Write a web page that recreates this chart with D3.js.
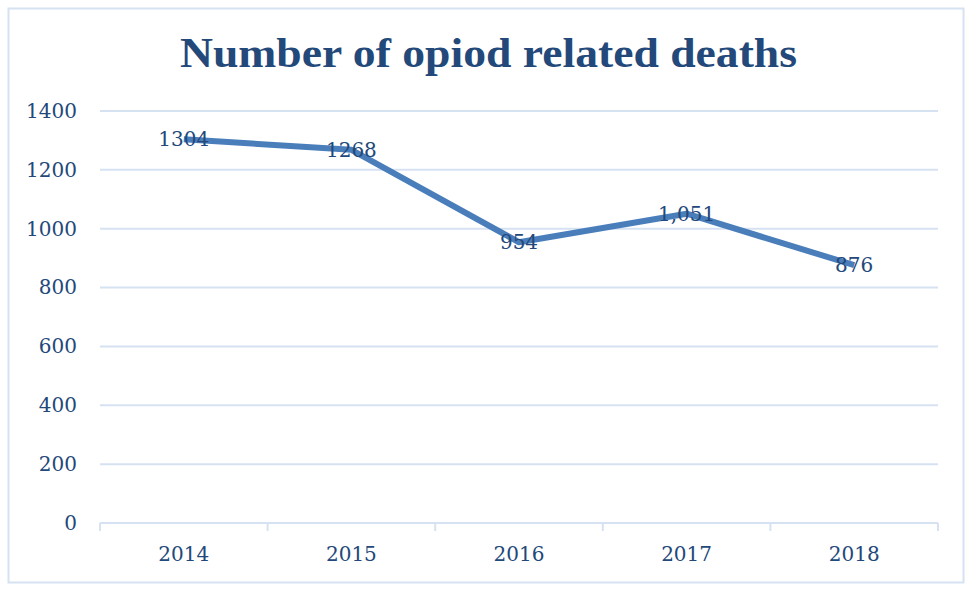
<!DOCTYPE html>
<html>
<head>
<meta charset="utf-8">
<script src="https://cdn.jsdelivr.net/npm/d3@7"></script>
<style>
  html, body { margin: 0; padding: 0; background: #ffffff; }
  svg { display: block; }
</style>
</head>
<body>
<svg id="chart" width="971" height="592"></svg>
<script>
// Opioid-related deaths per year
const years = ["2014", "2015", "2016", "2017", "2018"];
const deaths = [1304, 1268, 954, 1051, 876];
const valueLabels = ["1304", "1268", "954", "1,051", "876"];
const yTicks = [0, 200, 400, 600, 800, 1000, 1200, 1400];
const chartTitle = "Number of opiod related deaths";

const W = 971, H = 592;
const margin = { left: 100, right: 33, top: 111, bottom: 69 };
const textColor = "#23487a";
const gridColor = "#d6e2f2";
const lineColor = "#4a7ebb";
const serif = "'DejaVu Serif', Cambria, serif";

const svg = d3.select("#chart");

// outer frame
svg.append("rect")
  .attr("x", 8.5).attr("y", 8.5)
  .attr("width", 955).attr("height", 574)
  .attr("fill", "#ffffff")
  .attr("stroke", "#d6e2f2").attr("stroke-width", 2);

// title
svg.append("text")
  .attr("x", 488.5).attr("y", 67)
  .attr("text-anchor", "middle")
  .attr("font-family", "'Liberation Serif', 'Times New Roman', serif")
  .attr("font-weight", "bold")
  .attr("font-size", 43)
  .attr("fill", textColor)
  .attr("textLength", 617)
  .attr("lengthAdjust", "spacingAndGlyphs")
  .text(chartTitle);

const x = d3.scaleBand()
  .domain(years)
  .range([margin.left, W - margin.right])
  .padding(0);

const y = d3.scaleLinear()
  .domain([0, 1400])
  .range([H - margin.bottom, margin.top]);

// horizontal gridlines
svg.append("g")
  .selectAll("line")
  .data(yTicks)
  .join("line")
  .attr("x1", margin.left).attr("x2", W - margin.right)
  .attr("y1", d => y(d)).attr("y2", d => y(d))
  .attr("stroke", gridColor).attr("stroke-width", 2);

// y axis labels
const yAxis = svg.append("g")
  .attr("transform", `translate(${margin.left},0)`)
  .call(d3.axisLeft(y).tickValues(yTicks).tickSize(0).tickPadding(23).tickFormat(d3.format("d")));
yAxis.select(".domain").remove();
yAxis.selectAll("text")
  .attr("font-family", serif)
  .attr("font-size", 20)
  .attr("fill", textColor);

// x axis: baseline with tick marks at category boundaries
const baseY = y(0);
svg.append("line")
  .attr("x1", margin.left).attr("x2", W - margin.right)
  .attr("y1", baseY).attr("y2", baseY)
  .attr("stroke", gridColor).attr("stroke-width", 2);

const boundaries = years.map(d => x(d)).concat([x(years[years.length - 1]) + x.bandwidth()]);
svg.append("g")
  .selectAll("line")
  .data(boundaries)
  .join("line")
  .attr("x1", d => d).attr("x2", d => d)
  .attr("y1", baseY).attr("y2", baseY + 8)
  .attr("stroke", gridColor).attr("stroke-width", 2);

svg.append("g")
  .selectAll("text")
  .data(years)
  .join("text")
  .attr("x", d => x(d) + x.bandwidth() / 2)
  .attr("y", baseY + 38)
  .attr("text-anchor", "middle")
  .attr("font-family", serif)
  .attr("font-size", 20)
  .attr("fill", textColor)
  .text(d => d);

// data line
const pts = years.map((yr, i) => ({ yr, v: deaths[i], label: valueLabels[i] }));
const line = d3.line()
  .x(d => x(d.yr) + x.bandwidth() / 2)
  .y(d => y(d.v));

svg.append("path")
  .datum(pts)
  .attr("d", line)
  .attr("fill", "none")
  .attr("stroke", lineColor)
  .attr("stroke-width", 6)
  .attr("stroke-linejoin", "round");

// value labels centred on each point
svg.append("g")
  .selectAll("text")
  .data(pts)
  .join("text")
  .attr("x", d => x(d.yr) + x.bandwidth() / 2)
  .attr("y", d => y(d.v))
  .attr("dy", "0.36em")
  .attr("text-anchor", "middle")
  .attr("font-family", serif)
  .attr("font-size", 20)
  .attr("fill", textColor)
  .text(d => d.label);
</script>
</body>
</html>
